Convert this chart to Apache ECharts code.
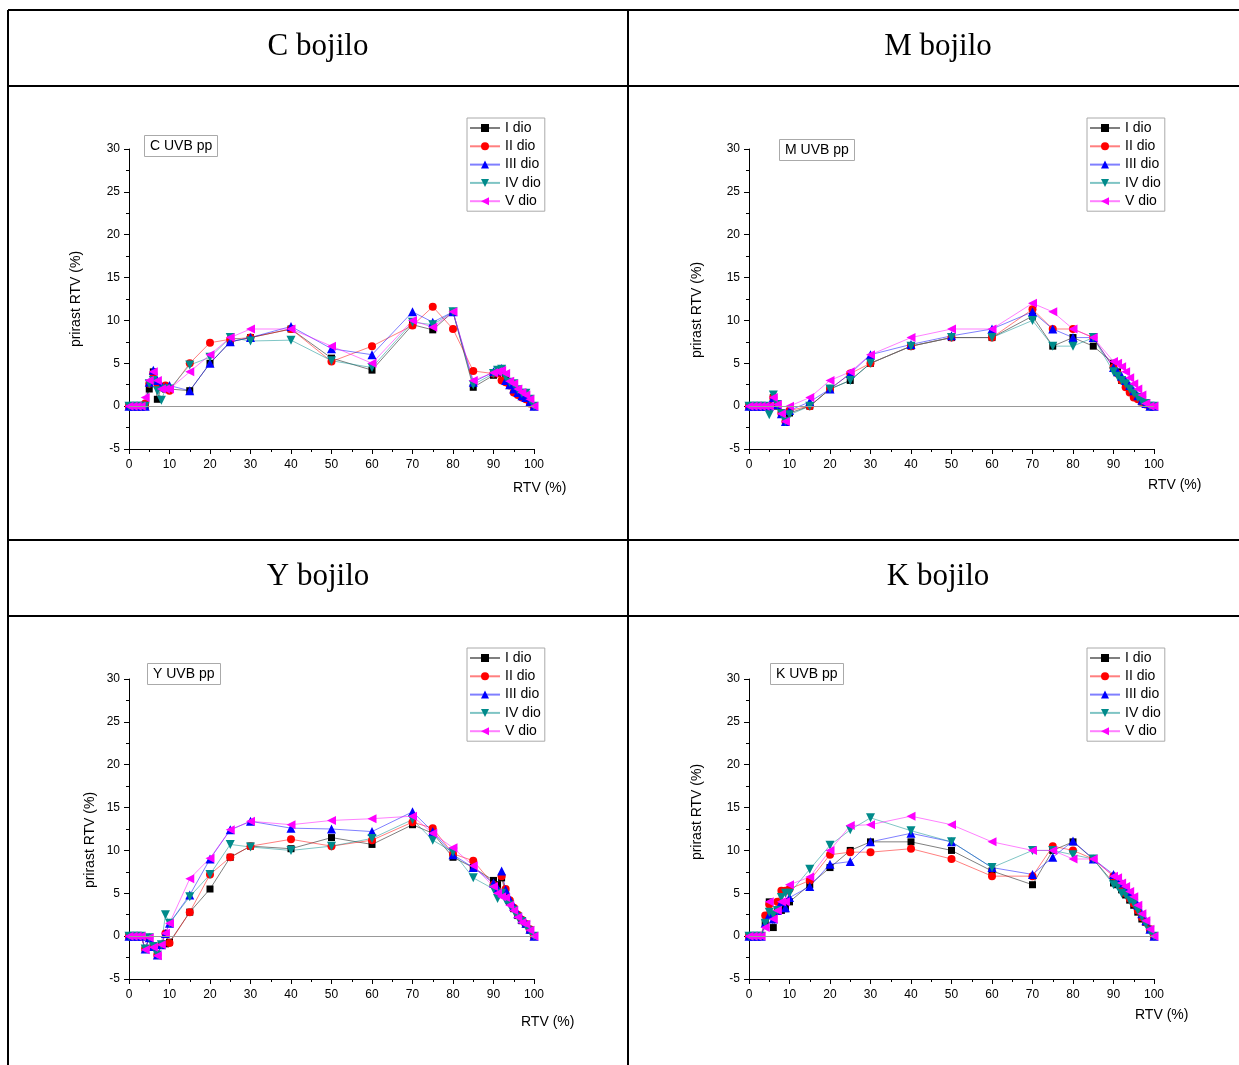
<!DOCTYPE html>
<html><head><meta charset="utf-8">
<script src="https://cdn.jsdelivr.net/npm/echarts@6/dist/echarts.min.js"></script>
<style>html,body{margin:0;padding:0;background:#fff}#c{width:1239px;height:1065px}</style>
</head><body><div id="c"></div>
<script>
// RTV (%) positions of the measured patches
const xVals = [0,1,2,3,4,5,6,7,8,9,10,15,20,25,30,40,50,60,70,75,80,85,90,91,92,93,94,95,96,97,98,99,100];
const seriesNames = ['I dio','II dio','III dio','IV dio','V dio'];
const panelTitles = ['C bojilo','M bojilo','Y bojilo','K bojilo'];
const boxLabels = ['C UVB pp','M UVB pp','Y UVB pp','K UVB pp'];
const xTicks = [0,10,20,30,40,50,60,70,80,90,100];
const yTicks = [-5,0,5,10,15,20,25,30];

// C bojilo
const C_I   = [0,0,0,0,0, 2.0,4.0,0.8,2.2,2.0,2.0, 1.8,5.0,7.5,8.0,9.0,5.6,4.2,9.5,8.9,11.0,2.2, 3.6,3.8,4.0,3.2,2.6,2.4,1.8,1.4,1.2,0.6,0];
const C_II  = [0,0,0,0,0.3, 2.6,3.8,2.6,2.2,2.4,1.8, 5.0,7.4,7.8,8.0,9.0,5.2,7.0,9.4,11.6,9.0,4.1, 3.8,3.8,3.0,2.8,2.4,1.6,1.3,1.0,0.8,0.3,0];
const C_III = [0,0,0,0,0, 2.8,4.2,3.0,2.4,2.2,2.4, 1.8,5.0,7.5,8.0,9.3,6.7,6.0,11.0,9.8,11.0,2.8, 4.0,4.1,4.4,3.0,2.5,2.0,1.6,1.2,1.0,0.5,0];
const C_IV  = [0,0,0,0,0, 2.6,3.0,1.8,0.7,2.0,2.0, 4.8,5.7,8.0,7.6,7.7,5.3,4.5,9.8,9.5,11.0,2.5, 3.8,4.2,4.3,3.4,2.8,2.6,1.9,1.5,1.5,0.8,0];
const C_V   = [0,0,0,0,1.0, 3.0,4.0,3.0,2.0,2.0,2.0, 4.0,6.0,8.0,9.0,9.0,7.0,5.0,10.0,9.2,11.0,3.0, 3.9,4.0,4.2,3.8,2.9,2.6,2.0,1.6,1.3,0.8,0];
// M bojilo
const M_I   = [0,0,0,0,0, 0,1.0,0,-0.8,-1.6,-0.8, 0,2.0,3.0,5.0,7.0,8.0,8.0,10.5,7.0,8.0,7.0, 5.0,4.0,3.0,2.5,2.0,1.5,1.0,0.5,0.2,0,0];
const M_II  = [0,0,0,0,0, 0,1.0,0.2,-0.8,-1.8,-0.5, 0,2.0,3.8,5.0,7.0,8.0,8.0,11.3,9.0,9.0,8.0, 4.5,3.8,3.0,2.2,1.6,1.0,0.8,0.5,0.2,0,0];
const M_III = [0,0,0,0,0, 0,1.0,0.2,-0.9,-1.8,-0.5, 0.5,2.0,3.8,6.0,7.2,8.2,9.0,11.0,9.0,8.0,8.0, 4.5,4.0,3.5,3.0,2.4,1.8,1.2,0.7,0.3,0,0];
const M_IV  = [0,0,0,0,0, -1.0,1.3,0.2,-0.9,-1.8,-1.0, 0,2.0,3.0,5.0,7.0,8.0,8.0,10.0,7.0,7.0,8.0, 4.0,3.5,3.0,2.6,2.0,1.5,1.0,0.6,0.3,0,0];
const M_V   = [0,0,0,0,0, 0,1.0,0.2,-0.9,-1.8,0, 1.0,3.0,4.0,6.0,8.0,9.0,9.0,12.0,11.0,9.0,8.0, 5.2,5.0,4.6,4.0,3.3,2.6,2.0,1.3,0.3,0,0];
// Y bojilo
const Y_I   = [0,0,0,0,-1.5, -0.2,-1.2,-2.2,-1.0,-0.9,-0.7, 2.8,5.5,9.2,10.5,10.2,11.5,10.7,13.0,12.0,9.2,8.0, 6.5,6.0,6.8,5.0,4.0,3.2,2.4,1.8,1.4,0.7,0];
const Y_II  = [0,0,0,0,-1.5, -0.2,-1.2,-2.2,-1.0,0.3,-0.8, 2.8,7.2,9.2,10.5,11.3,10.5,11.2,13.3,12.6,9.6,8.8, 6.0,5.3,7.0,5.5,4.2,3.3,2.5,1.9,1.4,0.8,0];
const Y_III = [0,0,0,0,-1.5, -0.2,-1.2,-2.2,-1.0,0.3,1.5, 4.8,9.0,12.4,13.4,12.6,12.5,12.2,14.5,12.2,9.5,8.0, 6.2,5.6,7.6,5.4,4.3,3.5,2.6,2.0,1.5,0.8,0];
const Y_IV  = [0,0,0,0,-1.5, -0.2,-1.2,-2.2,-1.0,2.5,1.5, 4.6,7.2,10.7,10.4,10.0,10.5,11.4,13.6,11.2,9.8,6.8, 5.5,4.4,5.0,4.2,3.6,3.0,2.2,1.7,1.2,0.6,0];
const Y_V   = [0,0,0,0,-1.6, -0.2,-1.3,-2.3,-1.0,0.35,1.5, 6.7,9.1,12.4,13.4,13.0,13.5,13.7,14.0,12.0,10.3,8.2, 5.8,5.0,4.6,4.5,3.6,3.0,2.2,1.6,1.4,0.7,0];
// K bojilo
const K_I   = [0,0,0,0,1.5, 4.0,1.0,3.0,3.0,3.2,4.0, 6.0,8.0,10.0,11.0,11.0,10.0,7.6,6.0,10.0,11.0,9.0, 6.2,6.0,5.4,4.8,4.2,3.6,2.8,2.0,1.6,0.8,0];
const K_II  = [0,0,0,0,2.4, 3.7,2.5,4.0,5.3,5.3,5.5, 6.5,9.5,9.8,9.8,10.2,9.0,7.0,7.0,10.5,10.0,9.0, 7.0,6.5,5.8,5.0,4.4,3.8,3.0,2.2,1.6,0.8,0];
const K_III = [0,0,0,0,1.5, 2.5,2.0,3.0,4.0,3.3,4.5, 5.8,8.4,8.7,11.0,12.0,11.0,8.0,7.2,9.2,11.1,9.0, 7.2,6.6,6.2,5.6,5.0,4.4,3.6,2.6,1.8,0.8,0];
const K_IV  = [0,0,0,0,1.5, 2.8,2.5,3.0,4.5,5.0,5.0, 7.8,10.6,12.4,13.8,12.3,11.0,8.0,10.0,10.0,9.5,9.0, 6.0,5.8,5.0,4.8,4.2,3.8,3.0,2.2,1.4,0.6,0];
const K_V   = [0,0,0,0,1.0, 4.0,2.0,3.0,4.0,4.0,6.0, 6.9,10.0,12.9,13.0,14.0,13.0,11.0,10.0,10.0,9.0,9.0, 7.0,6.8,6.2,5.8,5.2,4.6,3.6,2.6,1.8,0.8,0];

const FONT = '"Liberation Sans", Arial, sans-serif';
const SERIF = '"Liberation Serif", "Times New Roman", serif';
const colors = ['#000000','#ff0000','#0000ff','#008b8b','#ff00ff'];
const symbols = ['rect','circle','triangle','path://M0,0L10,0L5,10Z','path://M10,0L10,10L0,5Z'];
const symSizes = [7,8,9,9,9];

const panels = [
  {data:[C_I,C_II,C_III,C_IV,C_V], gx:129, gy:149, lg:[467,118], box:[144,135], xg:-21, xp:32, yg:46, ys:0,   tx:318, ty:47},
  {data:[M_I,M_II,M_III,M_IV,M_V], gx:749, gy:149, lg:[1087,118], box:[779,139], xg:-6,  xp:29, yg:45, ys:11,  tx:938, ty:47},
  {data:[Y_I,Y_II,Y_III,Y_IV,Y_V], gx:129, gy:679, lg:[467,648], box:[147,663], xg:-13, xp:36, yg:32, ys:11,  tx:318, ty:577},
  {data:[K_I,K_II,K_III,K_IV,K_V], gx:749, gy:679, lg:[1087,648], box:[770,663], xg:-19, xp:29, yg:45, ys:-17, tx:938, ty:577}
];

const grid=[], xAxis=[], yAxis=[], series=[], legend=[], title=[];
panels.forEach((p,i)=>{
  grid.push({left:p.gx, top:p.gy, width:405, height:300});
  xAxis.push({gridIndex:i, type:'value', min:xTicks[0], max:xTicks[xTicks.length-1], interval:10,
    axisLine:{show:true,onZero:false,lineStyle:{color:'#000',width:1}},
    axisTick:{show:true,length:5,lineStyle:{color:'#000'}},
    minorTick:{show:true,splitNumber:2,length:3,lineStyle:{color:'#000'}},
    splitLine:{show:false},
    axisLabel:{color:'#000',fontSize:12,fontFamily:FONT,margin:10},
    name:'RTV (%)', nameLocation:'end', nameGap:p.xg,
    nameTextStyle:{color:'#000',fontSize:14,fontFamily:FONT,align:'left',verticalAlign:'top',padding:[p.xp,0,0,0]}
  });
  yAxis.push({gridIndex:i, type:'value', min:yTicks[0], max:yTicks[yTicks.length-1], interval:5,
    axisLine:{show:true,onZero:false,lineStyle:{color:'#000',width:1}},
    axisTick:{show:true,length:5,lineStyle:{color:'#000'}},
    minorTick:{show:true,splitNumber:2,length:3,lineStyle:{color:'#000'}},
    splitLine:{show:false},
    axisLabel:{color:'#000',fontSize:12,fontFamily:FONT,margin:9},
    name:'prirast RTV (%)', nameLocation:'middle', nameGap:p.yg,
    nameTextStyle:{color:'#000',fontSize:14,fontFamily:FONT,
      padding: p.ys>0 ? [0,2*p.ys,0,0] : [0,0,0,-2*p.ys]}
  });
  p.data.forEach((arr,j)=>{
    const s = {type:'line', name:seriesNames[j], xAxisIndex:i, yAxisIndex:i,
      data: xVals.map((x,k)=>[x,arr[k]]),
      symbol:symbols[j], symbolSize:symSizes[j], showSymbol:true, showAllSymbol:true,
      itemStyle:{color:colors[j]},
      lineStyle:{color:colors[j],width:1,opacity:0.5},
      animation:false, silent:true};
    if(j===0){
      s.markLine = {silent:true, symbol:'none', label:{show:false}, animation:false,
        lineStyle:{color:'#999',type:'solid',width:1}, data:[{yAxis:0}]};
    }
    series.push(s);
  });
  legend.push({orient:'vertical', left:p.lg[0], top:p.lg[1], data:seriesNames,
    itemWidth:30, itemHeight:10, itemGap:4.3, padding:[3,4,3,2],
    borderColor:'#aaa', borderWidth:1, selectedMode:false,
    textStyle:{fontSize:14,color:'#000',fontFamily:FONT}});
  title.push({text:boxLabels[i], left:p.box[0], top:p.box[1], padding:[4,6],
    borderColor:'#aaa', borderWidth:1,
    textStyle:{fontSize:14,fontWeight:'normal',color:'#000',fontFamily:FONT}});
});

const graphic = [];
const hl = [10,86,540,616];
hl.forEach(y=>graphic.push({type:'line', shape:{x1:8,y1:y,x2:1239,y2:y}, style:{stroke:'#000',lineWidth:2}}));
[8,628].forEach(x=>graphic.push({type:'line', shape:{x1:x,y1:10,x2:x,y2:1065}, style:{stroke:'#000',lineWidth:2}}));
panels.forEach((p,i)=>graphic.push({type:'text', x:p.tx, y:p.ty,
  style:{text:panelTitles[i], fill:'#000', font:'31px '+SERIF, textAlign:'center', textVerticalAlign:'middle'}}));

const chart = echarts.init(document.getElementById('c'), null, {renderer:'canvas'});
chart.setOption({animation:false, backgroundColor:'#fff', grid, xAxis, yAxis, series, legend, title, graphic});
</script></body></html>
